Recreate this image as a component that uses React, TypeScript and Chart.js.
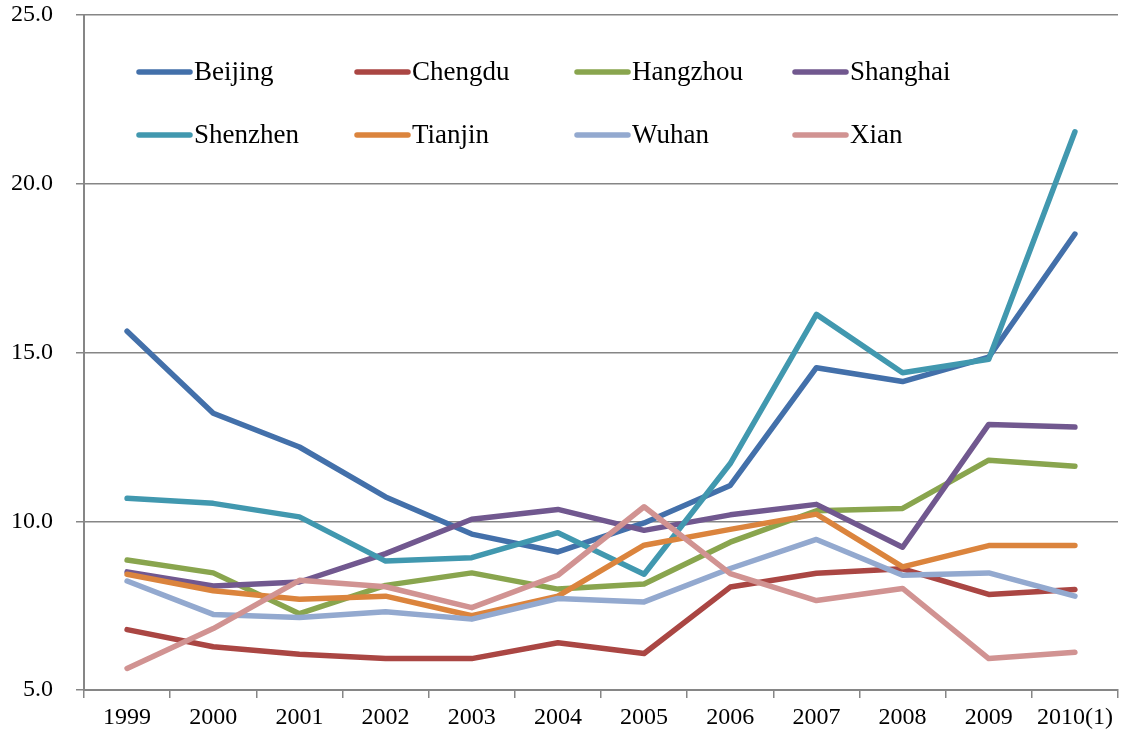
import React, { useEffect, useRef } from "react";
import { Chart, registerables } from "chart.js";

Chart.register(...registerables);

const categories = ["1999", "2000", "2001", "2002", "2003", "2004", "2005", "2006", "2007", "2008", "2009", "2010(1)"];

const seriesNames = ["Beijing", "Chengdu", "Hangzhou", "Shanghai", "Shenzhen", "Tianjin", "Wuhan", "Xian"];

const beijing = [15.63, 13.2, 12.2, 10.72, 9.62, 9.09, 9.95, 11.06, 14.55, 14.14, 14.86, 18.51];
const chengdu = [6.79, 6.28, 6.06, 5.93, 5.93, 6.4, 6.08, 8.05, 8.46, 8.59, 7.83, 7.98];
const hangzhou = [8.85, 8.47, 7.26, 8.1, 8.47, 7.99, 8.14, 9.38, 10.31, 10.38, 11.81, 11.63];
const shanghai = [8.5, 8.08, 8.2, 9.04, 10.06, 10.35, 9.73, 10.19, 10.5, 9.23, 12.87, 12.79];
const shenzhen = [10.68, 10.53, 10.13, 8.82, 8.92, 9.66, 8.43, 11.71, 16.13, 14.4, 14.8, 21.54];
const tianjin = [8.43, 7.94, 7.69, 7.78, 7.2, 7.78, 9.29, 9.76, 10.21, 8.65, 9.28, 9.28];
const wuhan = [8.23, 7.24, 7.15, 7.32, 7.1, 7.71, 7.61, 8.6, 9.46, 8.4, 8.47, 7.78];
const xian = [5.64, 6.82, 8.25, 8.06, 7.44, 8.4, 10.43, 8.45, 7.65, 8.01, 5.93, 6.12];

const seriesValues = [beijing, chengdu, hangzhou, shanghai, shenzhen, tianjin, wuhan, xian];

const seriesColors = ["#4370AA", "#AA4643", "#89A54E", "#71588F", "#4198AF", "#DB843D", "#93A9CF", "#D19392"];

const yTicks = [5, 10, 15, 20, 25];

const FONT = '"Liberation Serif", "Times New Roman", serif';
const GRID = "#868686";

const legendPlugin = {
  id: "gridLegend",
  afterDatasetsDraw(chart: any) {
    const ctx = chart.ctx;
    const cols = [139, 357, 577, 795];
    const rows = [72, 135];
    ctx.save();
    chart.data.datasets.forEach((ds: any, i: number) => {
      const x = cols[i % 4];
      const y = rows[Math.floor(i / 4)];
      ctx.strokeStyle = ds.borderColor;
      ctx.lineWidth = 5.5;
      ctx.lineCap = "round";
      ctx.beginPath();
      ctx.moveTo(x, y);
      ctx.lineTo(x + 51, y);
      ctx.stroke();
      ctx.fillStyle = "#000";
      ctx.font = `27px ${FONT}`;
      ctx.textBaseline = "middle";
      ctx.textAlign = "left";
      ctx.fillText(ds.label, x + 55, y + 1);
    });
    ctx.restore();
  },
};

export default function App() {
  const ref = useRef<HTMLCanvasElement>(null);

  useEffect(() => {
    if (!ref.current) return;
    const chart = new Chart(ref.current, {
      type: "line",
      data: {
        labels: categories,
        datasets: seriesNames.map((name, i) => ({
          label: name,
          data: seriesValues[i],
          borderColor: seriesColors[i],
          backgroundColor: seriesColors[i],
          borderWidth: 5.5,
          pointRadius: 0,
          pointHoverRadius: 0,
          tension: 0,
          fill: false,
          borderJoinStyle: "round" as const,
          borderCapStyle: "round" as const,
          order: -i,
        })),
      },
      options: {
        responsive: false,
        animation: false,
        devicePixelRatio: 1,
        layout: { padding: { left: 10, top: 15, right: 7, bottom: 16 } },
        plugins: {
          legend: { display: false },
          tooltip: { enabled: false },
        },
        scales: {
          x: {
            offset: true,
            afterFit: (scale: any) => {
              scale.height = 42;
              scale.paddingLeft = 0;
              scale.paddingRight = 0;
            },
            grid: {
              offset: true,
              drawOnChartArea: false,
              drawTicks: true,
              tickLength: 8,
              color: GRID,
              lineWidth: 1.5,
            },
            border: { display: true, color: GRID, width: 2 },
            ticks: {
              color: "#000",
              font: { family: FONT, size: 24 },
              padding: 5,
              maxRotation: 0,
              autoSkip: false,
            },
          },
          y: {
            min: 5,
            max: 25,
            afterBuildTicks: (scale: any) => {
              scale.ticks = yTicks.map((v) => ({ value: v }));
            },
            afterFit: (scale: any) => {
              scale.width = 74;
              scale.paddingTop = 0;
              scale.paddingBottom = 0;
            },
            grid: {
              color: GRID,
              lineWidth: 1.5,
              tickLength: 8,
              drawTicks: true,
            },
            border: { display: true, color: GRID, width: 2 },
            ticks: {
              color: "#000",
              font: { family: FONT, size: 24 },
              padding: 23,
              callback: (v: any) => Number(v).toFixed(1),
            },
          },
        },
      },
      plugins: [legendPlugin],
    });
    return () => chart.destroy();
  }, []);

  return (
    <div style={{ position: "fixed", left: 0, top: 0, width: 1125, height: 748, background: "#fff" }}>
      <canvas ref={ref} width={1125} height={748} style={{ display: "block", width: 1125, height: 748 }} />
    </div>
  );
}
